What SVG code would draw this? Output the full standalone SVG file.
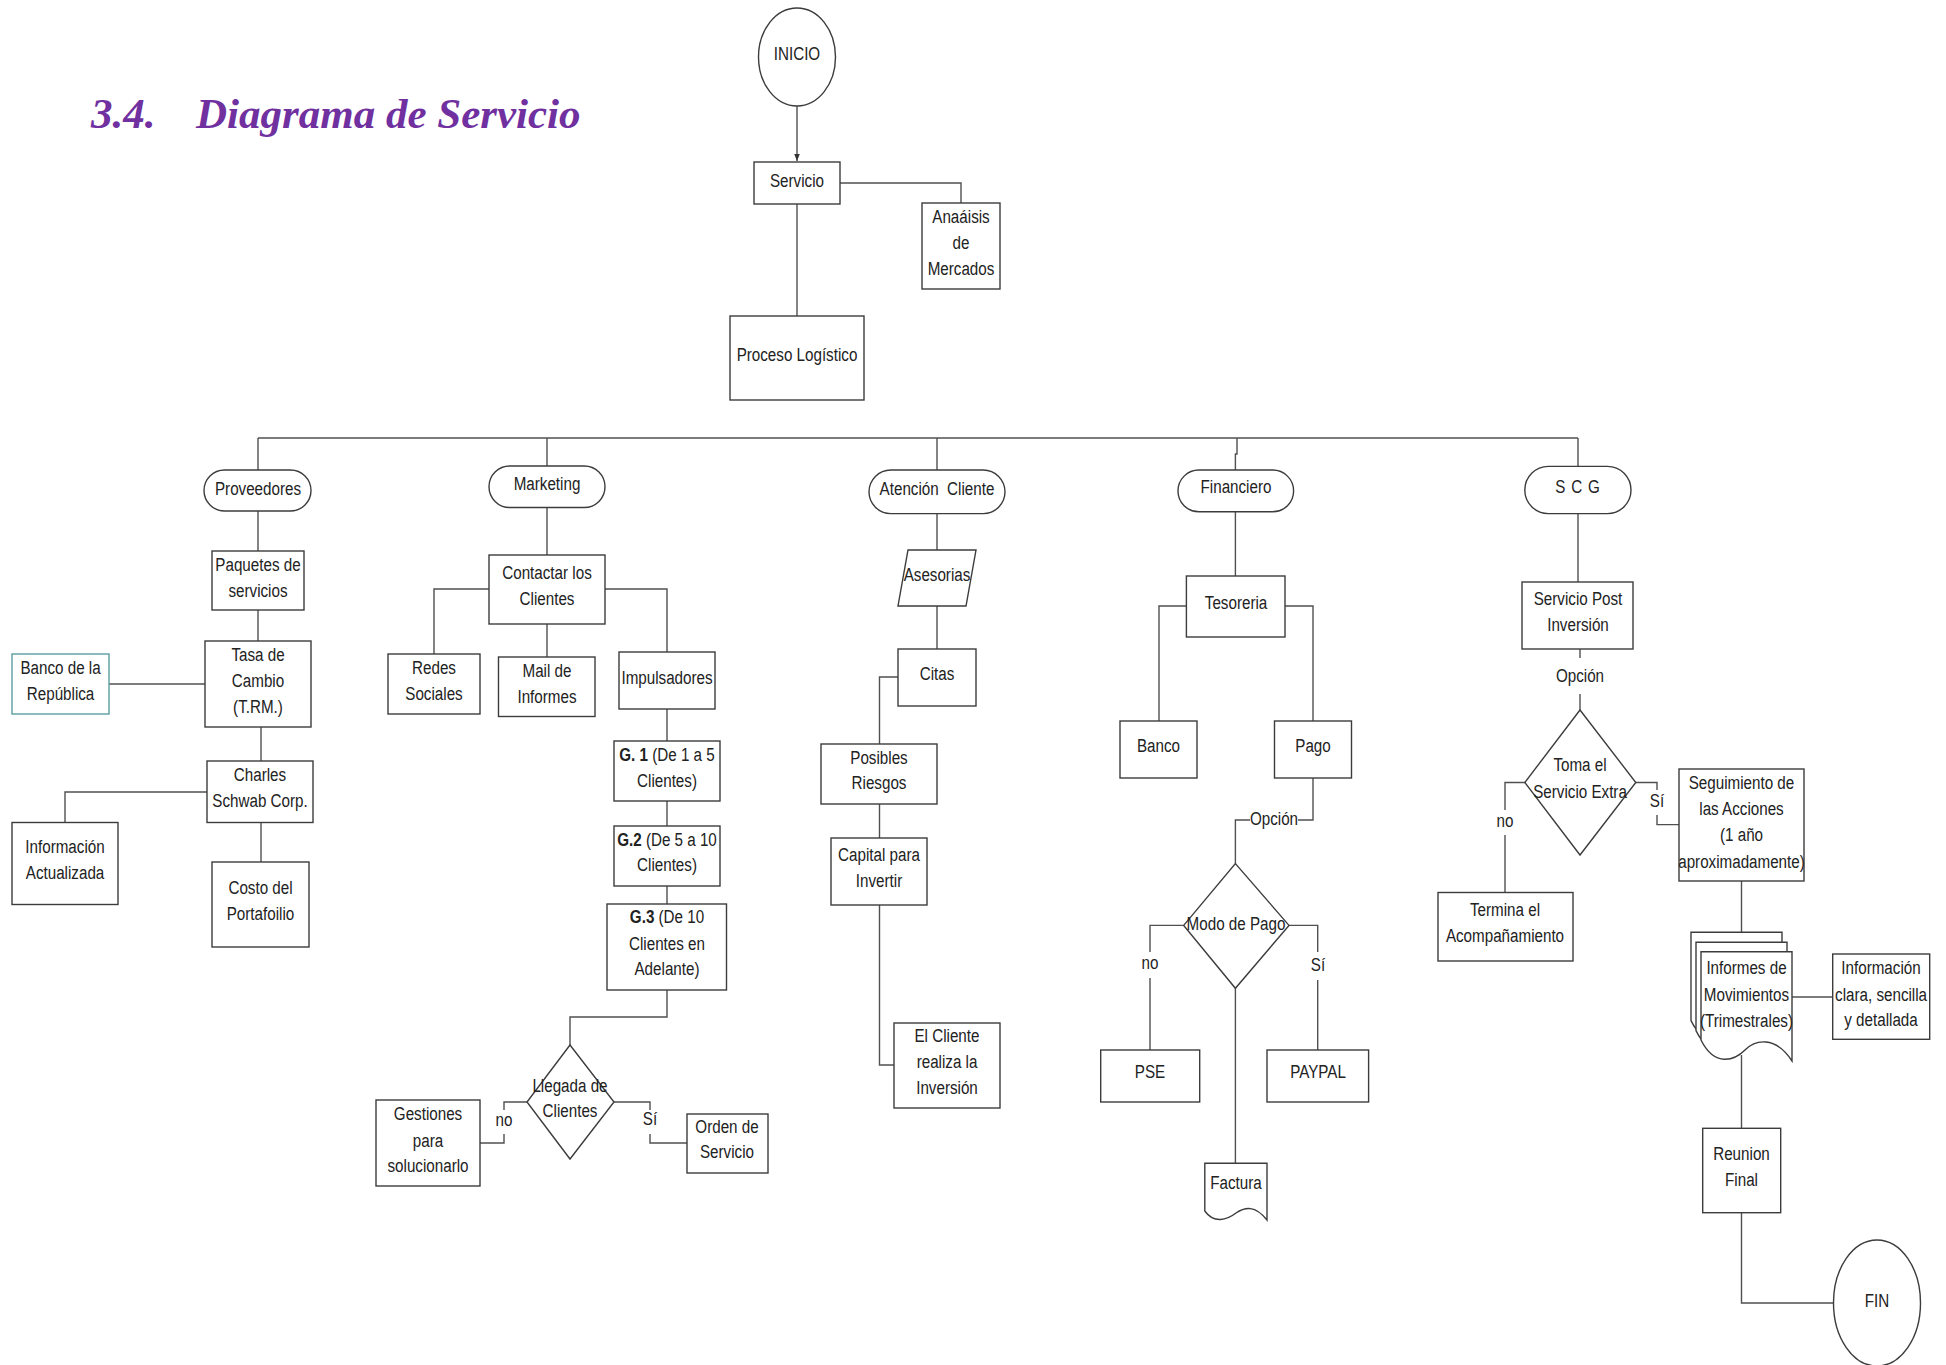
<svg xmlns="http://www.w3.org/2000/svg" width="1946" height="1365" viewBox="0 0 1946 1365">
<defs>
<style>
.bx{fill:#fff;stroke:#3c3c3c;stroke-width:1.4}
.ln{fill:none;stroke:#505050;stroke-width:1.4}
.t{font-family:"Liberation Sans Narrow","Arial Narrow","Liberation Sans",Arial,sans-serif;font-size:19px;fill:#222;text-anchor:middle;dominant-baseline:central;transform-box:fill-box;transform-origin:center;transform:translateY(-1.5px) scaleX(0.8)}
.title{font-family:"Liberation Serif","Times New Roman",serif;font-size:43px;font-weight:bold;font-style:italic;fill:#7030A0}
</style>
<marker id="arr" viewBox="0 0 10 10" refX="10" refY="5" markerWidth="7" markerHeight="9" orient="auto" markerUnits="userSpaceOnUse">
<path d="M0,1 L10,5 L0,9 Z" fill="#333"/>
</marker>
</defs>
<rect width="1946" height="1365" fill="#fff"/>
<text class="title" x="91" y="128">3.4.</text>
<text class="title" x="196" y="128">Diagrama de Servicio</text>

<g id="connectors">
<line class="ln" x1="797" y1="106" x2="797" y2="161" marker-end="url(#arr)"/>
<path class="ln" d="M840,183 H961 V203"/>
<path class="ln" d="M797,204 V316"/>
<path class="ln" d="M258,438 H1578"/>
<path class="ln" d="M258,438 V470"/>
<path class="ln" d="M547,438 V466"/>
<path class="ln" d="M937,438 V470"/>
<path class="ln" d="M1237,438 V454 H1235.4 V470"/>
<path class="ln" d="M1578,438 V466"/>
<path class="ln" d="M258,511 V551"/>
<path class="ln" d="M258,610 V641"/>
<path class="ln" d="M109,684 H205"/>
<path class="ln" d="M261,727 V761"/>
<path class="ln" d="M207,792 H65 V822"/>
<path class="ln" d="M261,822 V862"/>
<path class="ln" d="M547,507 V555"/>
<path class="ln" d="M489,589 H434 V654"/>
<path class="ln" d="M547,624 V657"/>
<path class="ln" d="M605,589 H667 V652"/>
<path class="ln" d="M667,709 V741"/>
<path class="ln" d="M667,801 V826"/>
<path class="ln" d="M667,886 V904"/>
<path class="ln" d="M667,990 V1017 H570 V1045"/>
<path class="ln" d="M527,1102 H504 V1110"/>
<path class="ln" d="M504,1134 V1143 H480"/>
<path class="ln" d="M614,1102 H650 V1110"/>
<path class="ln" d="M650,1134 V1143 H687"/>
<path class="ln" d="M937,513 V550"/>
<path class="ln" d="M937,606 V649"/>
<path class="ln" d="M898,677 H879.5 V744"/>
<path class="ln" d="M879.5,804 V838"/>
<path class="ln" d="M879.5,905 V1065 H894"/>
<path class="ln" d="M1235.4,512 V576"/>
<path class="ln" d="M1186,606 H1159 V721"/>
<path class="ln" d="M1285,606 H1313 V721"/>
<path class="ln" d="M1313,778 V820 H1298"/>
<path class="ln" d="M1250,820 H1235.4 V863.6"/>
<path class="ln" d="M1183.7,925.4 H1150 V952"/>
<path class="ln" d="M1150,978 V1050"/>
<path class="ln" d="M1289,925.4 H1317.7 V952"/>
<path class="ln" d="M1317.7,980 V1050"/>
<path class="ln" d="M1235.4,988 V1163"/>
<path class="ln" d="M1578,513.6 V582"/>
<path class="ln" d="M1580,649 V658"/>
<path class="ln" d="M1580,694 V710"/>
<path class="ln" d="M1524.8,782.5 H1505 V810"/>
<path class="ln" d="M1505,835 V892.5"/>
<path class="ln" d="M1635.8,782.5 H1657 V790"/>
<path class="ln" d="M1657,815 V824.6 H1679"/>
<path class="ln" d="M1741.5,881 V933"/>
<path class="ln" d="M1792,997 H1832.7"/>
<path class="ln" d="M1741.5,1055 V1128"/>
<path class="ln" d="M1741.5,1213 V1303 H1833.5"/>
</g>

<g id="inicio"><ellipse class="bx" cx="797" cy="57" rx="38.5" ry="49"/><text class="t" x="797" y="55">INICIO</text></g>
<g id="servicio"><rect class="bx" x="754" y="162" width="86" height="42"/><text class="t" x="797" y="182">Servicio</text></g>
<g id="analisis"><rect class="bx" x="922" y="203" width="78" height="86"/><text class="t" x="961" y="218">Anaáisis</text><text class="t" x="961" y="244">de</text><text class="t" x="961" y="270">Mercados</text></g>
<g id="proceso"><rect class="bx" x="730" y="316" width="134" height="84"/><text class="t" x="797" y="356">Proceso Logístico</text></g>

<g id="proveedores"><rect class="bx" x="204" y="470" width="107" height="41" rx="20.5"/><text class="t" x="258" y="490">Proveedores</text></g>
<g id="paquetes"><rect class="bx" x="212" y="551" width="92" height="59"/><text class="t" x="258" y="566">Paquetes de</text><text class="t" x="258" y="592">servicios</text></g>
<g id="tasa"><rect class="bx" x="205" y="641" width="106" height="86"/><text class="t" x="258" y="656">Tasa de</text><text class="t" x="258" y="682">Cambio</text><text class="t" x="258" y="708">(T.RM.)</text></g>
<g id="banco-rep"><rect x="12" y="654" width="97" height="60" fill="#fff" stroke="#5b9ea0" stroke-width="1.4"/><text class="t" x="60.5" y="669">Banco de la</text><text class="t" x="60.5" y="695">República</text></g>
<g id="charles"><rect class="bx" x="207" y="761" width="106" height="61.5"/><text class="t" x="260" y="776">Charles</text><text class="t" x="260" y="802">Schwab Corp.</text></g>
<g id="informacion"><rect class="bx" x="12" y="822.5" width="106" height="82"/><text class="t" x="65" y="848">Información</text><text class="t" x="65" y="874">Actualizada</text></g>
<g id="costo"><rect class="bx" x="212" y="862" width="97" height="85"/><text class="t" x="260.5" y="889">Costo del</text><text class="t" x="260.5" y="915">Portafoilio</text></g>

<g id="marketing"><rect class="bx" x="489" y="466" width="116" height="41.5" rx="20.75"/><text class="t" x="547" y="485">Marketing</text></g>
<g id="contactar"><rect class="bx" x="489" y="555" width="116" height="69"/><text class="t" x="547" y="574">Contactar los</text><text class="t" x="547" y="600">Clientes</text></g>
<g id="redes"><rect class="bx" x="388" y="654" width="92" height="60"/><text class="t" x="434" y="669">Redes</text><text class="t" x="434" y="695">Sociales</text></g>
<g id="mail"><rect class="bx" x="498.5" y="657" width="96.5" height="59.5"/><text class="t" x="547" y="672">Mail de</text><text class="t" x="547" y="698">Informes</text></g>
<g id="impulsadores"><rect class="bx" x="619" y="652" width="96" height="57"/><text class="t" x="667" y="679">Impulsadores</text></g>
<g id="g1"><rect class="bx" x="614" y="741" width="106" height="60"/><text class="t" x="667" y="756"><tspan font-weight="bold">G. 1</tspan> (De 1 a 5</text><text class="t" x="667" y="782">Clientes)</text></g>
<g id="g2"><rect class="bx" x="614" y="826" width="106" height="60"/><text class="t" x="667" y="841"><tspan font-weight="bold">G.2</tspan> (De 5 a 10</text><text class="t" x="667" y="866">Clientes)</text></g>
<g id="g3"><rect class="bx" x="607" y="904" width="119.5" height="86"/><text class="t" x="667" y="918"><tspan font-weight="bold">G.3</tspan> (De 10</text><text class="t" x="667" y="945">Clientes en</text><text class="t" x="667" y="970">Adelante)</text></g>
<g id="llegada"><polygon class="bx" points="570,1045 614,1102 570,1159 527,1102"/><text class="t" x="570" y="1087">Llegada de</text><text class="t" x="570" y="1112">Clientes</text></g>
<g id="lbl-no1"><text class="t" x="504" y="1121">no</text></g>
<g id="lbl-si1"><text class="t" x="650" y="1120">Sí</text></g>
<g id="gestiones"><rect class="bx" x="376" y="1100" width="104" height="86"/><text class="t" x="428" y="1115">Gestiones</text><text class="t" x="428" y="1142">para</text><text class="t" x="428" y="1167">solucionarlo</text></g>
<g id="orden"><rect class="bx" x="687" y="1114" width="81" height="59"/><text class="t" x="727" y="1128">Orden de</text><text class="t" x="727" y="1153">Servicio</text></g>

<g id="atencion"><rect class="bx" x="869" y="470" width="136" height="43.6" rx="21.8"/><text class="t" x="937" y="490" xml:space="preserve">Atención  Cliente</text></g>
<g id="asesorias"><polygon class="bx" points="908,550 976,550 966,606 898,606"/><text class="t" x="937" y="576">Asesorias</text></g>
<g id="citas"><rect class="bx" x="898" y="649" width="78" height="57"/><text class="t" x="937" y="675">Citas</text></g>
<g id="posibles"><rect class="bx" x="821" y="744" width="116" height="60"/><text class="t" x="879" y="759">Posibles</text><text class="t" x="879" y="784">Riesgos</text></g>
<g id="capital"><rect class="bx" x="831" y="838" width="96" height="67"/><text class="t" x="879" y="856">Capital para</text><text class="t" x="879" y="882">Invertir</text></g>
<g id="elcliente"><rect class="bx" x="894" y="1023" width="106" height="85"/><text class="t" x="947" y="1037">El Cliente</text><text class="t" x="947" y="1063">realiza la</text><text class="t" x="947" y="1089">Inversión</text></g>

<g id="financiero"><rect class="bx" x="1178" y="470" width="115.6" height="41.8" rx="20.9"/><text class="t" x="1236" y="488">Financiero</text></g>
<g id="tesoreria"><rect class="bx" x="1186.4" y="576" width="98.6" height="61"/><text class="t" x="1236" y="604">Tesoreria</text></g>
<g id="banco"><rect class="bx" x="1120" y="721" width="77" height="57"/><text class="t" x="1158.5" y="747">Banco</text></g>
<g id="pago"><rect class="bx" x="1274.5" y="721" width="77" height="57"/><text class="t" x="1313" y="747">Pago</text></g>
<g id="lbl-opcion1"><text class="t" x="1274" y="820">Opción</text></g>
<g id="modo"><polygon class="bx" points="1235.4,863.6 1289,925.4 1235.4,988.3 1183.7,925.4"/><text class="t" x="1236" y="925">Modo de Pago</text></g>
<g id="lbl-no2"><text class="t" x="1150" y="964">no</text></g>
<g id="lbl-si2"><text class="t" x="1318" y="966">Sí</text></g>
<g id="pse"><rect class="bx" x="1100.7" y="1050" width="99" height="52"/><text class="t" x="1150" y="1073">PSE</text></g>
<g id="paypal"><rect class="bx" x="1267" y="1050" width="101.6" height="52"/><text class="t" x="1318" y="1073">PAYPAL</text></g>
<g id="factura"><path class="bx" d="M1204.8,1163.3 H1267 V1220 C1255,1205 1245,1207 1236,1213 C1227,1220 1214,1224 1204.8,1211 Z"/><text class="t" x="1236" y="1184">Factura</text></g>

<g id="scg"><rect class="bx" x="1524.8" y="466.4" width="106.2" height="47.2" rx="23.6"/><text class="t" x="1578" y="488" letter-spacing="1">S C G</text></g>
<g id="postinv"><rect class="bx" x="1522" y="582" width="111" height="67"/><text class="t" x="1578" y="600">Servicio Post</text><text class="t" x="1578" y="626">Inversión</text></g>
<g id="lbl-opcion2"><text class="t" x="1580" y="677">Opción</text></g>
<g id="toma"><polygon class="bx" points="1580,710 1635.8,782.5 1580,855 1524.8,782.5"/><text class="t" x="1580" y="766">Toma el</text><text class="t" x="1580" y="793">Servicio Extra</text></g>
<g id="lbl-no3"><text class="t" x="1505" y="822">no</text></g>
<g id="lbl-si3"><text class="t" x="1657" y="802">Sí</text></g>
<g id="termina"><rect class="bx" x="1438" y="892.5" width="135" height="68.5"/><text class="t" x="1505" y="911">Termina el</text><text class="t" x="1505" y="937">Acompañamiento</text></g>
<g id="seguimiento"><rect class="bx" x="1679" y="769" width="125" height="112"/><text class="t" x="1741.5" y="784">Seguimiento de</text><text class="t" x="1741.5" y="810">las Acciones</text><text class="t" x="1741.5" y="836">(1 año</text><text class="t" x="1741.5" y="863">aproximadamente)</text></g>
<g id="informes">
<path class="bx" d="M1691,932.3 H1782 V1041.6 C1765,1015.6 1745,1020.6 1735,1030.6 C1725,1040.6 1705,1048.6 1691,1020.6 Z"/>
<path class="bx" d="M1696,942.3 H1787 V1051.6 C1770,1025.6 1750,1030.6 1740,1040.6 C1730,1050.6 1710,1058.6 1696,1030.6 Z"/>
<path class="bx" d="M1701,951.7 H1792 V1061 C1775,1035 1755,1040 1745,1050 C1735,1060 1715,1068 1701,1040 Z"/>
<text class="t" x="1746.5" y="969">Informes de</text><text class="t" x="1746.5" y="996">Movimientos</text><text class="t" x="1746.5" y="1022">(Trimestrales)</text></g>
<g id="infoclara"><rect class="bx" x="1832.7" y="954" width="97" height="85.3"/><text class="t" x="1881" y="969">Información</text><text class="t" x="1881" y="996">clara, sencilla</text><text class="t" x="1881" y="1021">y detallada</text></g>
<g id="reunion"><rect class="bx" x="1702.7" y="1128.3" width="78" height="84.4"/><text class="t" x="1741.5" y="1155">Reunion</text><text class="t" x="1741.5" y="1181">Final</text></g>
<g id="fin"><ellipse class="bx" cx="1877" cy="1303" rx="43.5" ry="63"/><text class="t" x="1877" y="1302">FIN</text></g>
</svg>
